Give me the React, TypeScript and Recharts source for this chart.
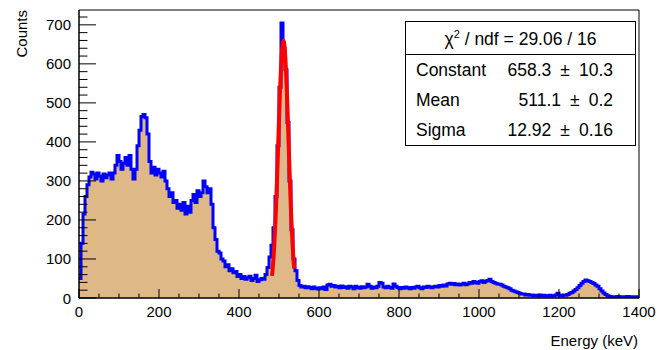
import React from 'react';
import { ComposedChart, Area, Line, XAxis, YAxis, ReferenceLine } from 'recharts';

// Histogram: 5 keV bins from 0 to 1400 keV
const binWidth = 5;
const counts: number[] = [
  50, 140, 215, 260, 290, 310, 322, 318, 305, 320, 312, 300, 318, 308, 315, 320, 305, 320, 340, 365,
  350, 330, 345, 360, 340, 365, 330, 305, 330, 390, 430, 465, 470, 462, 420, 350, 320, 335, 315, 330,
  320, 310, 325, 300, 280, 260, 270, 245, 250, 230, 240, 225, 245, 215, 235, 220, 250, 265, 245, 275,
  260, 270, 300, 285, 270, 280, 240, 180, 150, 120, 115, 100, 95, 80, 85, 70, 75, 65, 68, 55,
  60, 50, 55, 48, 52, 56, 45, 50, 58, 42, 47, 50, 48, 60, 78, 105, 135, 180, 260, 390,
  540, 705, 640, 585, 450, 300, 175, 100, 70, 45, 32, 28, 30, 26, 29, 27, 24, 28, 25, 23,
  26, 24, 28, 22, 33, 35, 30, 32, 28, 30, 26, 31, 27, 29, 25, 30, 28, 24, 30, 27,
  25, 29, 26, 28, 35, 30, 25, 28, 26, 30, 40, 38, 28, 26, 30, 27, 25, 36, 30, 27,
  24, 27, 25, 28, 26, 24, 27, 25, 28, 30, 26, 24, 28, 27, 30, 28, 26, 29, 30, 28,
  32, 30, 33, 31, 36, 38, 35, 37, 34, 36, 33, 35, 38, 34, 36, 40, 38, 42, 40, 38,
  42, 44, 40, 43, 45, 48, 42, 40, 38, 36, 35, 33, 30, 28, 26, 24, 20, 18, 16, 14,
  12, 10, 10, 8, 9, 7, 8, 6, 7, 6, 8, 6, 7, 5, 6, 7, 5, 6, 8, 12,
  7, 6, 8, 7, 9, 12, 14, 18, 22, 26, 32, 38, 42, 46, 44, 42, 40, 37, 33, 30,
  24, 18, 13, 9, 6, 4, 3, 2, 3, 4, 2, 3, 3, 2, 4, 3, 2, 3, 3, 2,
];

// Gaussian fit parameters (from the stats box)
const fitConstant = 658.3;
const fitMean = 511.1;
const fitSigma = 12.92;
const fitRange = [482.5, 538];

const xMajorTicks = [0, 200, 400, 600, 800, 1000, 1200, 1400];
const xMinorStep = 50;
const yMajorTicks = [0, 100, 200, 300, 400, 500, 600, 700];
const yMinorStep = 20;
const xDomain = [0, 1400];
const yDomain = [0, 738];

const statsRows = [
  { name: 'Constant', value: '658.3', error: '10.3' },
  { name: 'Mean', value: '511.1', error: '0.2' },
  { name: 'Sigma', value: '12.92', error: '0.16' },
];

const histData = counts
  .map((c, i) => ({ energy: i * binWidth, counts: c }))
  .concat([{ energy: xDomain[1], counts: counts[counts.length - 1] }]);

const fitData: { energy: number; fit: number }[] = [];
for (let e = fitRange[0]; e <= fitRange[1] + 1e-9; e += 0.5) {
  fitData.push({ energy: e, fit: fitConstant * Math.exp(-0.5 * ((e - fitMean) / fitSigma) ** 2) });
}

const xTicks: number[] = [];
for (let v = xDomain[0]; v <= xDomain[1]; v += xMinorStep) xTicks.push(v);
const yTicks: number[] = [];
for (let v = 0; v <= 720; v += yMinorStep) yTicks.push(v);

const FONT = '"Liberation Sans", Arial, Helvetica, sans-serif';

const XTick = (props: any) => {
  const { x, y, payload } = props;
  const major = xMajorTicks.includes(payload.value);
  return (
    <g>
      <line x1={x} y1={y} x2={x} y2={y - (major ? 9 : 4.5)} stroke="#000" strokeWidth={1} />
      {major && (
        <text x={x} y={y + 19} textAnchor="middle" fontSize={15} fontFamily={FONT} fill="#000">
          {payload.value}
        </text>
      )}
    </g>
  );
};

const YTick = (props: any) => {
  const { x, y, payload } = props;
  const major = yMajorTicks.includes(payload.value);
  return (
    <g>
      <line x1={x} y1={y} x2={x + (major ? 17 : 8.5)} y2={y} stroke="#000" strokeWidth={1} />
      {major && (
        <text x={x - 8} y={y + 5.5} textAnchor="end" fontSize={15} fontFamily={FONT} fill="#000">
          {payload.value}
        </text>
      )}
    </g>
  );
};

export default function App() {
  return (
    <div style={{ position: 'absolute', left: 0, top: 0, width: 668, height: 350, background: '#fff', fontFamily: FONT }}>
      <ComposedChart
        width={668}
        height={350}
        data={histData}
        margin={{ top: 10, right: 29, bottom: 22, left: 29 }}
      >
        <Area
          dataKey="counts"
          type="stepAfter"
          stroke="#0000ff"
          strokeWidth={3}
          fill="#deb887"
          fillOpacity={1}
          dot={false}
          activeDot={false}
          isAnimationActive={false}
        />
        <Line
          data={fitData}
          dataKey="fit"
          type="linear"
          stroke="#ff0000"
          strokeWidth={4}
          dot={false}
          activeDot={false}
          isAnimationActive={false}
        />
        <ReferenceLine y={yDomain[1]} stroke="#000" strokeWidth={1} ifOverflow="extendDomain" />
        <ReferenceLine x={xDomain[1]} stroke="#000" strokeWidth={1} />
        <XAxis
          type="number"
          dataKey="energy"
          domain={xDomain}
          ticks={xTicks}
          interval={0}
          tick={<XTick />}
          tickLine={false}
          tickSize={0}
          tickMargin={0}
          axisLine={{ stroke: '#000', strokeWidth: 1.5 }}
          height={30}
          allowDataOverflow
        />
        <YAxis
          type="number"
          domain={yDomain}
          ticks={yTicks}
          interval={0}
          tick={<YTick />}
          tickLine={false}
          tickSize={0}
          tickMargin={0}
          axisLine={{ stroke: '#000', strokeWidth: 1.5 }}
          width={50}
          allowDataOverflow
        />
      </ComposedChart>

      <div style={{ position: 'absolute', right: 30, top: 332, fontSize: 15, color: '#000', lineHeight: '18px', whiteSpace: 'nowrap' }}>
        Energy (keV)
      </div>
      <div
        style={{
          position: 'absolute',
          left: 13,
          top: 10,
          width: 18,
          height: 60,
          fontSize: 15,
          color: '#000',
        }}
      >
        <div style={{ position: 'absolute', right: 0, top: 0, transformOrigin: 'top right', transform: 'translate(-18px, 0) rotate(-90deg)', whiteSpace: 'nowrap', lineHeight: '18px' }}>
          Counts
        </div>
      </div>

      <div
        style={{
          position: 'absolute',
          left: 405,
          top: 21,
          width: 231,
          height: 125,
          border: '1px solid #000',
          background: '#fff',
          fontSize: 17.5,
          color: '#000',
          boxSizing: 'border-box',
        }}
      >
        <div style={{ height: 32, borderBottom: '1px solid #000', textAlign: 'center', lineHeight: '34px', whiteSpace: 'nowrap' }}>
          χ<sup style={{ fontSize: 11, verticalAlign: 'top', lineHeight: '24px' }}>2</sup> / ndf = 29.06 / 16
        </div>
        {statsRows.map((r) => (
          <div key={r.name} style={{ position: 'relative', height: 30, lineHeight: '31px', whiteSpace: 'nowrap' }}>
            <span style={{ position: 'absolute', left: 10 }}>{r.name}</span>
            <span style={{ position: 'absolute', right: 22 }}>
              {r.value}
              <span style={{ margin: '0 9px' }}>±</span>
              {r.error}
            </span>
          </div>
        ))}
      </div>
    </div>
  );
}
